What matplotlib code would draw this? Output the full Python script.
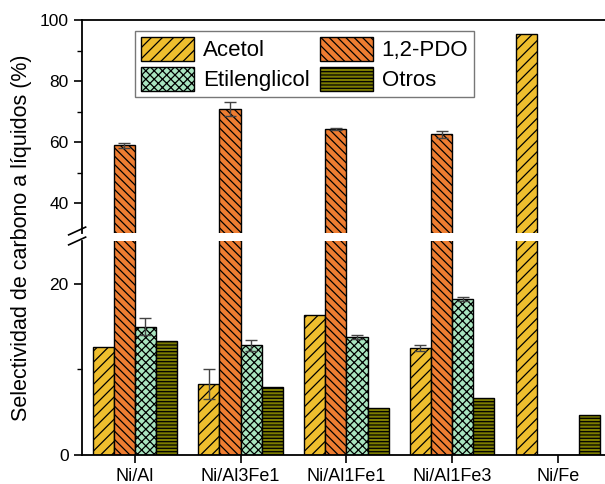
import matplotlib
matplotlib.use("Agg")
import matplotlib.pyplot as plt
import numpy as np
from matplotlib.lines import Line2D

plt.rcParams["font.family"] = ["Liberation Sans", "DejaVu Sans"]
plt.rcParams["hatch.linewidth"] = 0.9

catalysts = ["Ni/Al", "Ni/Al3Fe1", "Ni/Al1Fe1", "Ni/Al1Fe3", "Ni/Fe"]
series = ["Acetol", "1,2-PDO", "Etilenglicol", "Otros"]
acetol = [12.6, 8.3, 16.4, 12.5, 95.3]
pdo = [58.9, 70.8, 64.2, 62.5, 0.0]
etilenglicol = [15.0, 12.8, 13.8, 18.2, 0.0]
otros = [13.3, 8.0, 5.5, 6.7, 4.7]
acetol_err = [0.0, 1.8, 0.0, 0.3, 0.0]
pdo_err = [0.7, 2.4, 0.3, 1.2, 0.0]
etilenglicol_err = [1.0, 0.6, 0.2, 0.2, 0.0]

colors = ["#EFBE2E", "#EE7D31", "#A9E5C0", "#7B7B00"]
hatches = ["///", "\\\\\\\\", "xxxx", "-----"]
values = [acetol, pdo, etilenglicol, otros]
errors = [acetol_err, pdo_err, etilenglicol_err, None]

fig = plt.figure(figsize=(6.05, 4.84), dpi=100)
left, right = 0.1355, 1.0
ax_top = fig.add_axes([left, 0.5186, right - left, 0.9587 - 0.5186])
ax_bot = fig.add_axes([left, 0.0599, right - left, 0.5021 - 0.0599])

x = np.arange(len(catalysts))
w = 0.2
handles = []
for ax in (ax_top, ax_bot):
    for i, (vals, c, h, err) in enumerate(zip(values, colors, hatches, errors)):
        pos = x + (i - 1.5) * w
        bars = ax.bar(pos, vals, w, color=c, edgecolor="black", linewidth=1.0,
                      hatch=h, label=series[i])
        if err is not None:
            mask = [e > 0 for e in err]
            ax.errorbar(pos[mask], np.array(vals)[mask], yerr=np.array(err)[mask],
                        fmt="none", ecolor="#444444", elinewidth=1.0, capsize=4, capthick=1.0)
        if ax is ax_top:
            handles.append(bars)

ax_top.set_ylim(30.2, 100)
ax_bot.set_ylim(0, 25)
for ax in (ax_top, ax_bot):
    ax.set_xlim(-0.5, 4.445)
    ax.spines["right"].set_visible(False)
    for s in ax.spines.values():
        s.set_linewidth(1.3)
    ax.tick_params(axis="both", direction="out", labelsize=12.5, width=1.2, length=6)
    ax.tick_params(which="minor", direction="out", width=1.0, length=3.5)

ax_top.spines["bottom"].set_visible(False)
ax_top.tick_params(axis="x", bottom=False, labelbottom=False)
ax_top.set_yticks([40, 60, 80, 100])
ax_top.set_yticks([50, 70, 90], minor=True)

ax_bot.spines["top"].set_visible(False)
ax_bot.set_yticks([0, 20])
ax_bot.set_yticks([10], minor=True)
ax_bot.set_xticks(x)
ax_bot.set_xticklabels(catalysts, fontsize=13)

# break marks on left spine
for yb in (1 - 231 / 484, 1 - 241 / 484):
    fig.add_artist(Line2D([left - 0.022, left + 0.006], [yb - 0.008, yb + 0.008],
                          color="black", lw=1.2, transform=fig.transFigure))

fig.text(0.035, 1 - 238 / 484, "Selectividad de carbono a líquidos (%)",
         rotation=90, ha="center", va="center", fontsize=15.5)

# row-major legend order: Acetol, 1,2-PDO / Etilenglicol, Otros
order = [0, 2, 1, 3]
fig.legend([handles[k] for k in order], [series[k] for k in order], ncol=2,
           loc="upper left", bbox_to_anchor=(135 / 605, 1 - 31 / 484), fontsize=16,
           frameon=True, fancybox=False, edgecolor="#777777", framealpha=1,
           handlelength=2.4, handleheight=1.3, columnspacing=0.45,
           handletextpad=0.4, borderpad=0.25, labelspacing=0.25, borderaxespad=0)

fig.savefig("out.png", dpi=100)
